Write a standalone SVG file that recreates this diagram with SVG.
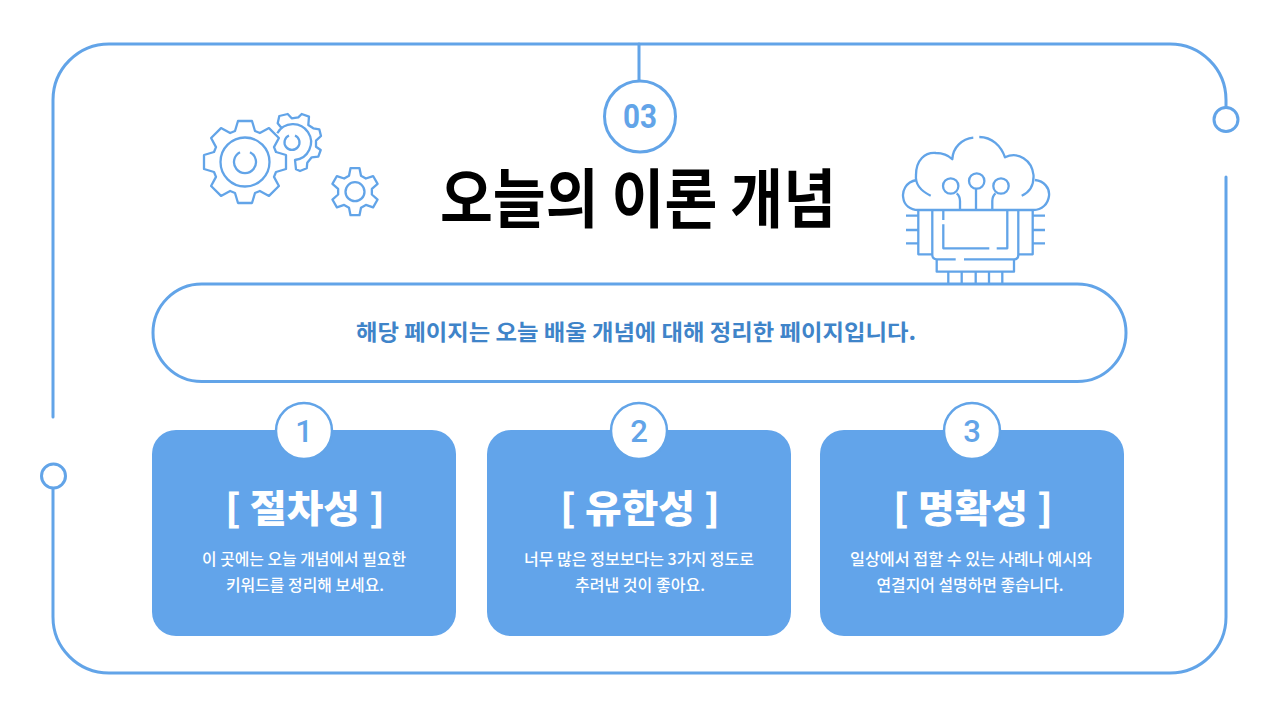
<svg xmlns="http://www.w3.org/2000/svg" width="1280" height="720" viewBox="0 0 1280 720">
<style>
.ln{fill:none;stroke:#62a4e8;stroke-width:3;stroke-linecap:round;stroke-linejoin:round}
.ic{fill:none;stroke:#62a4e8;stroke-width:2.300;stroke-linecap:butt;stroke-linejoin:round}
.card{fill:#62a4ea}
.bd{fill:#fff;stroke:#62a4e8;stroke-width:2.500}
text{font-family:"Noto Sans CJK KR","Noto Sans",sans-serif;text-anchor:middle}
.h{font-size:38px;font-weight:900;fill:#fff}
.s{font-size:16px;font-weight:500;fill:#fff}
.n{font-family:Roboto,"Noto Sans",sans-serif;font-weight:500;fill:#62a4e8}
</style>
<rect width="1280" height="720" fill="#fff"/>
<g id="connectors">
<path class="ln" d="M53,417 V100 A56,56 0 0 1 109,44 H1170 A56,56 0 0 1 1226,100 V107"/>
<path class="ln" d="M1226,177 V617 A56,56 0 0 1 1170,673 H109 A56,56 0 0 1 53,617 V489"/>
<path class="ln" d="M639,44 V82"/>
</g>
<g id="frame-dot-right"><circle cx="1226" cy="119.500" r="12" fill="#fff" stroke="#62a4e8" stroke-width="3"/></g>
<g id="frame-dot-left"><circle cx="53.500" cy="476" r="12" fill="#fff" stroke="#62a4e8" stroke-width="3"/></g>
<g id="badge-03">
<circle cx="640" cy="116.500" r="35.500" fill="#fff" stroke="#62a4e8" stroke-width="3"/>
<text class="n" x="640" y="128" font-size="34" textLength="34" lengthAdjust="spacingAndGlyphs" style="font-weight:700">03</text>
</g>
<g id="title"><text x="638" y="222" font-size="64" font-weight="700" fill="#000" textLength="396" lengthAdjust="spacingAndGlyphs">오늘의 이론 개념</text></g>
<g id="gears">
<path class="ic" transform="translate(245,162)" d="M-10,-31 L-7,-41 L7,-41 L10,-31 L14.850,-29 L24,-33.900 L33.900,-24 L29,-14.850 L31,-10 L41,-7 L41,7 L31,10 L29,14.850 L33.900,24 L24,33.900 L14.850,29 L10,31 L7,41 L-7,41 L-10,31 L-14.850,29 L-24,33.900 L-33.900,24 L-29,14.850 L-31,10 L-41,7 L-41,-7 L-31,-10 L-29,-14.850 L-33.900,-24 L-24,-33.900 L-14.850,-29 Z"/>
<circle class="ic" cx="245" cy="162" r="24.500"/>
<path class="ic" d="M240,152.300 A11,11 0 1 0 250,152.300"/>
<path class="ic" d="M281.700,128.300 L277.700,123.300 L279.300,116 L287.700,114 L291.700,118.300 L298.300,117.300 L301.700,114 L309,116.700 L308.300,125 L313.300,128.300 L319.300,129.300 L321,136 L316,140.700 L316,146.700 L320.700,150 L318.300,156.700 L311.700,157.300 L307.300,162.700 L306.700,168.300 L300,171 L296,169.300 L295,160 A18,18 0 1 0 277.300,133.300"/>
<path class="ic" d="M289,135.500 A7.500,7.500 0 1 0 295,135.500"/>
<path class="ic" transform="translate(355,191.700)" d="M-6,-16 L-4.500,-23.500 L4.500,-23.500 L6,-16 L10.860,-13.200 L18.100,-15.650 L22.600,-7.850 L16.860,-2.800 L16.860,2.800 L22.600,7.850 L18.100,15.650 L10.860,13.200 L6,16 L4.500,23.500 L-4.500,23.500 L-6,16 L-10.860,13.200 L-18.100,15.650 L-22.600,7.850 L-16.860,2.800 L-16.860,-2.800 L-22.600,-7.850 L-18.100,-15.650 L-10.860,-13.200 Z"/>
<circle class="ic" cx="355" cy="191.700" r="9.500"/>
</g>
<g id="cloud-chip">
<path class="ic" d="M930.700,195.700 C921,191 915,184 916,175 C916,160 925,152 936,153 C943,153 949,156 952.300,159.300 C953,147 962,139 973.300,137.700"/>
<path class="ic" d="M979.300,137 C992,137 1001,146 1005,157.300 C1018,151 1032,160 1033.500,175 C1034,185 1030,192 1021.700,195.700"/>
<path class="ic" d="M916.700,180 C905,182 902,192 903.300,198 C904,205 910,210 918.300,210 H1033.300 C1042,210 1048,204 1049,196 C1050,188 1044,181 1035,180"/>
<circle class="ic" cx="950.700" cy="186" r="7.700"/>
<circle class="ic" cx="976.700" cy="181" r="7.700"/>
<circle class="ic" cx="1001" cy="186" r="7.700"/>
<path class="ic" d="M956.700,193.300 Q960,196 960,201 V210 M976,188.700 V210 M995.500,193.300 Q992.300,196 992.300,201 V210"/>
<path class="ic" d="M918.300,210 V254.300 H932.300 M1032.700,210 V254.300 H1018.300"/>
<path class="ic" d="M955.700,259.300 H937 Q932.300,259.300 932.300,255 V210 M1018.300,210 V255 Q1018.300,259.300 1014,259.300 H964"/>
<path class="ic" d="M943.300,211 V220 M943.300,224.300 V248.300 H989.300 M996.700,248.300 H1007.300 V211"/>
<path class="ic" d="M906,215.700 H918.300 M906,230 H918.300 M906,243.300 H918.300 M1032.700,215.700 H1045 M1032.700,230 H1045 M1032.700,243.300 H1045"/>
<path class="ic" d="M936.700,259.300 V271.700 H1014 V259.300 M948.300,271.700 V285 M961.700,271.700 V285 M975.700,271.700 V285 M989,271.700 V285 M1002.300,271.700 V285"/>
</g>
<g id="subtitle-pill">
<rect x="153" y="284" width="973" height="97.500" rx="48.700" fill="#fff" stroke="#62a4e8" stroke-width="3"/>
<text x="636" y="340" font-size="22" font-weight="700" fill="#3f84c9" textLength="560" lengthAdjust="spacingAndGlyphs">해당 페이지는 오늘 배울 개념에 대해 정리한 페이지입니다.</text>
</g>
<g id="card-1">
<rect class="card" x="152" y="430" width="304" height="206" rx="24"/>
<circle class="bd" cx="304" cy="431" r="28"/>
<text class="n" x="304" y="442" font-size="31">1</text>
<text class="h" x="305" y="522" textLength="160" lengthAdjust="spacingAndGlyphs">[ 절차성 ]</text>
<text class="s" x="304" y="565" textLength="204" lengthAdjust="spacingAndGlyphs">이 곳에는 오늘 개념에서 필요한</text>
<text class="s" x="305" y="591" textLength="158" lengthAdjust="spacingAndGlyphs">키워드를 정리해 보세요.</text>
</g>
<g id="card-2">
<rect class="card" x="487" y="430" width="304" height="206" rx="24"/>
<circle class="bd" cx="639" cy="431" r="28"/>
<text class="n" x="639" y="442" font-size="31">2</text>
<text class="h" x="640" y="522" textLength="160" lengthAdjust="spacingAndGlyphs">[ 유한성 ]</text>
<text class="s" x="639" y="565" textLength="230" lengthAdjust="spacingAndGlyphs">너무 많은 정보보다는 3가지 정도로</text>
<text class="s" x="640" y="591" textLength="130" lengthAdjust="spacingAndGlyphs">추려낸 것이 좋아요.</text>
</g>
<g id="card-3">
<rect class="card" x="820" y="430" width="304" height="206" rx="24"/>
<circle class="bd" cx="972" cy="431" r="28"/>
<text class="n" x="972" y="442" font-size="31">3</text>
<text class="h" x="973" y="522" textLength="160" lengthAdjust="spacingAndGlyphs">[ 명확성 ]</text>
<text class="s" x="971" y="565" textLength="242" lengthAdjust="spacingAndGlyphs">일상에서 접할 수 있는 사례나 예시와</text>
<text class="s" x="970" y="591" textLength="187" lengthAdjust="spacingAndGlyphs">연결지어 설명하면 좋습니다.</text>
</g>
</svg>
